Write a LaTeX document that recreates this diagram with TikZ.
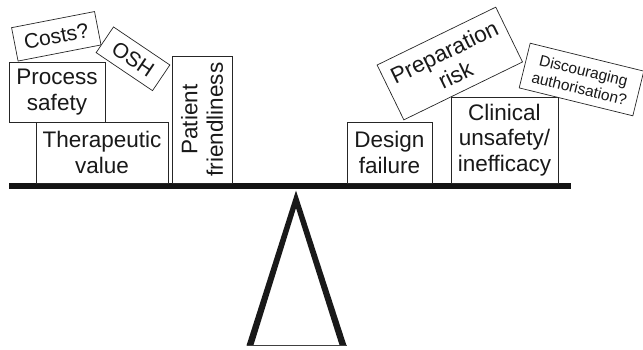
\documentclass[tikz,border=0pt]{standalone}
\usepackage{fontspec}
\setmainfont{Liberation Sans}
\begin{document}
\begin{tikzpicture}[x=1pt,y=-1pt,
  weight/.style={draw=black!85,line width=0.7pt,fill=white,inner sep=0pt,
    align=center,text=black!90,font=\fontsize{22.5}{25.5}\selectfont},
  smallweight/.style={weight,font=\fontsize{15.5}{18}\selectfont}]
\useasboundingbox (0,0) rectangle (643,349);

% fulcrum: thick sides, thin base
\fill[black!90,even odd rule]
  (246.5,345.5) -- (296,190.5) -- (346.5,345.5) -- cycle
  (253.5,345) -- (296,208) -- (339.5,345) -- cycle;
\draw[black!75,line width=0.9pt] (246.5,345) -- (346.5,345);

% beam
\fill[black!92] (9,183.3) rectangle (570.7,189);

% left pan
\node[weight,minimum width=96pt,minimum height=60pt] (proc) at (57,92) {Process\\safety};
\node[weight,minimum width=132pt,minimum height=61pt] (ther) at (102,152.5) {Therapeutic\\value};
\node[weight,rotate=90,minimum width=127pt,minimum height=60pt] (pat) at (202,119.5) {Patient\\friendliness};
\node[weight,rotate=11,minimum width=84.5pt,minimum height=34pt,
  font=\fontsize{21}{24}\selectfont] (cost) at (56.3,36.3) {Costs?};
\node[weight,rotate=-34,minimum width=68pt,minimum height=31pt,
  font=\fontsize{21}{24}\selectfont] (osh) at (133,58.8) {OSH};

% right pan
\node[weight,minimum width=85pt,minimum height=61pt] (des) at (389.5,152.5) {Design\\failure};
\node[weight,minimum width=107pt,minimum height=86pt] (clin) at (504.5,140) {Clinical\\unsafety/\\inefficacy};
\node[weight,rotate=26,minimum width=132pt,minimum height=61pt] (prep) at (449.8,63.5) {Preparation\\risk};
\node[smallweight,rotate=-13.8,minimum width=117pt,minimum height=46pt] (disc) at (581.5,79.5) {Discouraging\\authorisation?};
\end{tikzpicture}
\end{document}
